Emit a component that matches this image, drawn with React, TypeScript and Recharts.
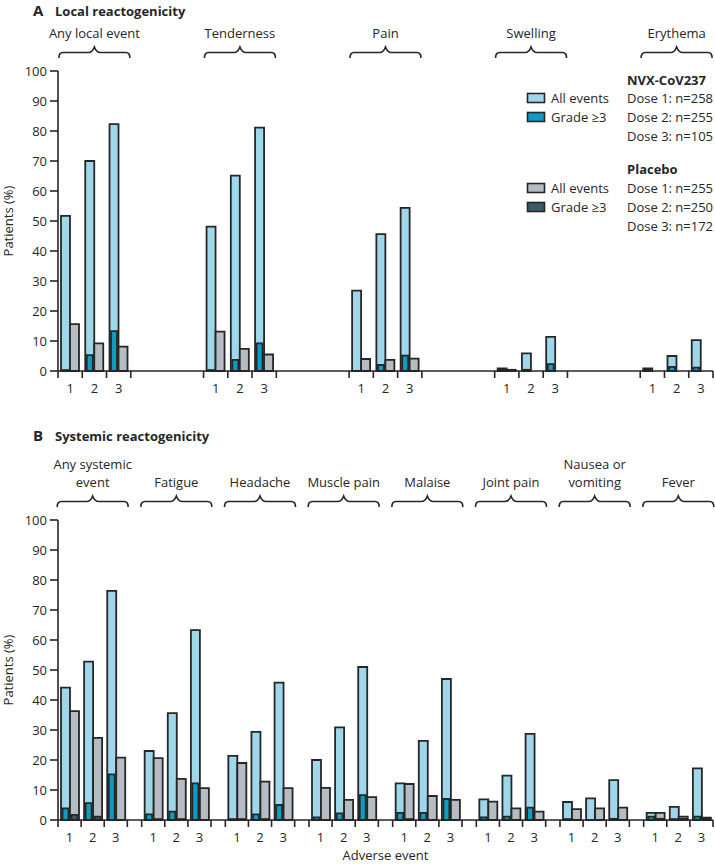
import { Bar, BarChart, Legend, Rectangle, XAxis, YAxis } from 'recharts';

const FONT = '"Open Sans", "Noto Sans", sans-serif';
const INK = '#262626';
const C_NVX = '#9fd7ea';
const C_NVX3 = '#0e9bc5';
const C_PBO = '#b5bcc4';
const C_PBO3 = '#3d5b66';

const DOSES = ['1', '2', '3'];
const Y_TICKS = [0, 10, 20, 30, 40, 50, 60, 70, 80, 90, 100];

// Panel A – local reactogenicity, values per event for dose 1, 2, 3 (% of patients)
const LOCAL_EVENTS = [['Any local event'], ['Tenderness'], ['Pain'], ['Swelling'], ['Erythema']];
const LOCAL_NVX_ALL = [[51.7, 70.0, 82.3], [48.1, 65.1, 81.1], [26.8, 45.6, 54.4], [0.9, 5.9, 11.4], [0.9, 5.0, 10.3]];
const LOCAL_NVX_G3 = [[0.3, 5.3, 13.3], [0.3, 3.7, 9.2], [0, 2.0, 5.1], [0.4, 0.4, 2.3], [0.4, 1.4, 1.1]];
const LOCAL_PBO_ALL = [[15.6, 9.2, 8.1], [13.1, 7.4, 5.5], [4.0, 3.7, 4.1], [0.4, 0, 0], [0, 0, 0]];
const LOCAL_PBO_G3 = [[0, 0, 0], [0, 0, 0], [0, 0, 0], [0, 0, 0], [0, 0, 0]];

// Panel B – systemic reactogenicity
const SYS_EVENTS = [
  ['Any systemic', 'event'],
  ['Fatigue'],
  ['Headache'],
  ['Muscle pain'],
  ['Malaise'],
  ['Joint pain'],
  ['Nausea or', 'vomiting'],
  ['Fever'],
];
const SYS_NVX_ALL = [[44.1, 52.8, 76.4], [23.0, 35.6, 63.3], [21.4, 29.4, 45.8], [20.0, 30.9, 51.0], [12.2, 26.4, 47.0], [6.9, 14.8, 28.7], [6.0, 7.2, 13.3], [2.4, 4.4, 17.2]];
const SYS_NVX_G3 = [[3.9, 5.6, 15.2], [1.9, 2.8, 12.2], [0.3, 1.9, 5.0], [0.9, 2.2, 8.3], [2.4, 2.4, 7.0], [0.9, 1.1, 4.1], [0.3, 0, 0.4], [1.1, 0.3, 1.1]];
const SYS_PBO_ALL = [[36.3, 27.4, 20.8], [20.6, 13.7, 10.6], [19.0, 12.8, 10.6], [10.7, 6.7, 7.6], [12.0, 8.0, 6.7], [6.1, 3.9, 2.8], [3.6, 3.9, 4.1], [2.4, 1.1, 0.8]];
const SYS_PBO_G3 = [[1.7, 1.1, 0], [0.3, 0.3, 0], [0.3, 0.3, 0], [0, 0, 0], [0.3, 0, 0], [0, 0, 0], [0, 0, 0], [0.4, 0.4, 0.4]];

const NVX_N = [258, 255, 105];
const PBO_N = [255, 250, 172];

type Grid = number[][];

/** Lay the groups out on a numeric axis: one unit per dose slot, `gap` units between events. */
function buildPanel(events: string[][], nvxAll: Grid, nvxG3: Grid, pboAll: Grid, pboG3: Grid, gap: number) {
  const n = DOSES.length;
  const rows: Record<string, number | string>[] = [];
  const ticks: number[] = [];
  const labels = new Map<number, string>();
  const centers: number[] = [];
  const names = new Map<number, string[]>();
  events.forEach((name, g) => {
    const start = g * (n + gap);
    for (let k = 0; k <= n; k++) ticks.push(start + k);
    DOSES.forEach((dose, d) => {
      const pos = start + d + 0.5;
      ticks.push(pos);
      labels.set(pos, dose);
      rows.push({ pos, dose, nvxAll: nvxAll[g][d], nvxG3: nvxG3[g][d], pboAll: pboAll[g][d], pboG3: pboG3[g][d] });
    });
    centers.push(start + n / 2);
    names.set(start + n / 2, name);
  });
  const total = events.length * n + (events.length - 1) * gap;
  return { rows, ticks, labels, centers, names, total };
}

const LOCAL = buildPanel(LOCAL_EVENTS, LOCAL_NVX_ALL, LOCAL_NVX_G3, LOCAL_PBO_ALL, LOCAL_PBO_G3, 3);
const SYSTEMIC = buildPanel(SYS_EVENTS, SYS_NVX_ALL, SYS_NVX_G3, SYS_PBO_ALL, SYS_PBO_G3, 0.62);

const TEXT = { fill: INK, fontSize: 13, fontFamily: FONT };

function DoseTick({ x, y, payload, labels }: any) {
  const label = labels.get(payload.value);
  if (label === undefined) {
    return <line x1={x} x2={x} y1={y} y2={y + 7} stroke={INK} strokeWidth={1.6} />;
  }
  return (
    <text x={x} y={y + 22} textAnchor="middle" {...TEXT}>
      {label}
    </text>
  );
}

function GroupTick({ x, y, payload, names }: any) {
  const lines: string[] = names.get(payload.value) ?? [];
  const h = y - 18.5;
  const x0 = x - 35.5;
  const x1 = x + 35.5;
  const d = `M${x0},${y - 13} Q${x0},${h} ${x0 + 4},${h} L${x - 6},${h} Q${x - 2},${h} ${x},${y - 24} Q${x + 2},${h} ${x + 6},${h} L${x1 - 4},${h} Q${x1},${h} ${x1},${y - 13}`;
  return (
    <g>
      {lines.map((t, i) => (
        <text key={t} x={x} y={y - 33 - (lines.length - 1 - i) * 18.5} textAnchor="middle" {...TEXT}>
          {t}
        </text>
      ))}
      <path d={d} fill="none" stroke={INK} strokeWidth={1.6} />
    </g>
  );
}

const InsetBar = (props: any) => <Rectangle {...props} x={props.x + 1.5} width={Math.max(props.width - 3, 0)} />;

const YLabel = ({ viewBox }: any) => {
  const cx = viewBox.x + 8;
  const cy = viewBox.y + viewBox.height / 2;
  return (
    <text x={cx} y={cy} transform={`rotate(-90 ${cx} ${cy})`} textAnchor="middle" dominantBaseline="central" {...TEXT}>
      Patients (%)
    </text>
  );
};

const XLabel = ({ viewBox }: any) => (
  <text x={viewBox.x + viewBox.width / 2} y={viewBox.y + 40} textAnchor="middle" {...TEXT}>
    Adverse event
  </text>
);

function LegendBlock() {
  const swatch = (y: number, fill: string) => (
    <rect x={7.5} y={y - 4.5} width={17} height={9} fill={fill} stroke={INK} strokeWidth={1.6} />
  );
  const doseLines = (ns: number[], y0: number) =>
    ns.map((n, i) => (
      <text key={i} x={107} y={y0 + i * 19 + 4.6} {...TEXT}>
        {`Dose ${DOSES[i]}: n=${n}`}
      </text>
    ));
  return (
    <svg width={195} height={180} style={{ display: 'block' }}>
      <text x={107} y={20 + 4.6} {...TEXT} fontWeight="bold">NVX-CoV237</text>
      {doseLines(NVX_N, 38)}
      {swatch(38, C_NVX)}
      <text x={31} y={38 + 4.6} {...TEXT}>All events</text>
      {swatch(57, C_NVX3)}
      <text x={31} y={57 + 4.6} {...TEXT}>Grade ≥3</text>
      <text x={107} y={109 + 4.6} {...TEXT} fontWeight="bold">Placebo</text>
      {doseLines(PBO_N, 128)}
      {swatch(128, C_PBO)}
      <text x={31} y={128 + 4.6} {...TEXT}>All events</text>
      {swatch(147, C_PBO3)}
      <text x={31} y={147 + 4.6} {...TEXT}>Grade ≥3</text>
    </svg>
  );
}

function ReactoChart({ p, topHeight, bottomHeight, showLegend, xLabel }: any) {
  const domain = [0, p.total];
  return (
    <BarChart
      width={715}
      height={topHeight + 300 + bottomHeight}
      data={p.rows}
      margin={{ top: 0, right: 2, bottom: 0, left: 0 }}
      barGap={0}
    >
      <XAxis
        xAxisId="grp"
        orientation="top"
        type="number"
        dataKey="pos"
        domain={domain}
        ticks={p.centers}
        interval={0}
        height={topHeight}
        axisLine={false}
        tickLine={false}
        tickSize={0}
        tickMargin={0}
        tick={(t: any) => <GroupTick {...t} names={p.names} />}
      />
      <XAxis
        xAxisId="all"
        type="number"
        dataKey="pos"
        domain={domain}
        ticks={p.ticks}
        interval={0}
        height={bottomHeight}
        axisLine={{ stroke: INK, strokeWidth: 1.6 }}
        tickLine={false}
        tickSize={0}
        tickMargin={0}
        tick={(t: any) => <DoseTick {...t} labels={p.labels} />}
        label={xLabel ? { content: XLabel } : undefined}
      />
      <XAxis xAxisId="g3" type="number" dataKey="pos" domain={domain} hide />
      <YAxis
        domain={[0, 100]}
        ticks={Y_TICKS}
        interval={0}
        width={58}
        tickSize={8}
        tickMargin={3}
        axisLine={{ stroke: INK, strokeWidth: 1.6 }}
        tickLine={{ stroke: INK, strokeWidth: 1.6 }}
        tick={TEXT}
        label={{ content: YLabel }}
      />
      {showLegend && (
        <Legend
          layout="vertical"
          align="center"
          verticalAlign="middle"
          content={LegendBlock}
          wrapperStyle={{ left: 520, top: 60, width: 195, height: 180 }}
        />
      )}
      <Bar xAxisId="all" dataKey="nvxAll" name="NVX-CoV237 all events" fill={C_NVX} stroke={INK} strokeWidth={1.8} barSize={9} isAnimationActive={false} />
      <Bar xAxisId="all" dataKey="pboAll" name="Placebo all events" fill={C_PBO} stroke={INK} strokeWidth={1.8} barSize={9} isAnimationActive={false} />
      <Bar xAxisId="g3" dataKey="nvxG3" name="NVX-CoV237 grade ≥3" fill={C_NVX3} stroke={INK} strokeWidth={1.8} barSize={9} shape={InsetBar} isAnimationActive={false} />
      <Bar xAxisId="g3" dataKey="pboG3" name="Placebo grade ≥3" fill={C_PBO3} stroke={INK} strokeWidth={1.8} barSize={9} shape={InsetBar} isAnimationActive={false} />
    </BarChart>
  );
}

export default function App() {
  return (
    <div style={{ position: 'absolute', left: 0, top: 0, width: 715, height: 865, fontFamily: FONT, background: '#fff' }}>
      <div style={{ position: 'absolute', left: 0, top: 0 }}>
        <ReactoChart p={LOCAL} topHeight={71} bottomHeight={30} showLegend />
      </div>
      <div style={{ position: 'absolute', left: 0, top: 410 }}>
        <ReactoChart p={SYSTEMIC} topHeight={110} bottomHeight={45} xLabel />
      </div>
      <svg width={715} height={865} style={{ position: 'absolute', left: 0, top: 0, pointerEvents: 'none' }}>
        <text x={33} y={16} fill={INK} fontFamily={FONT} fontSize={15} fontWeight="bold">A</text>
        <text x={55} y={15.5} fill={INK} fontFamily={FONT} fontSize={13} fontWeight="bold">Local reactogenicity</text>
        <text x={33} y={441} fill={INK} fontFamily={FONT} fontSize={15} fontWeight="bold">B</text>
        <text x={55} y={440.5} fill={INK} fontFamily={FONT} fontSize={13} fontWeight="bold">Systemic reactogenicity</text>
      </svg>
    </div>
  );
}
